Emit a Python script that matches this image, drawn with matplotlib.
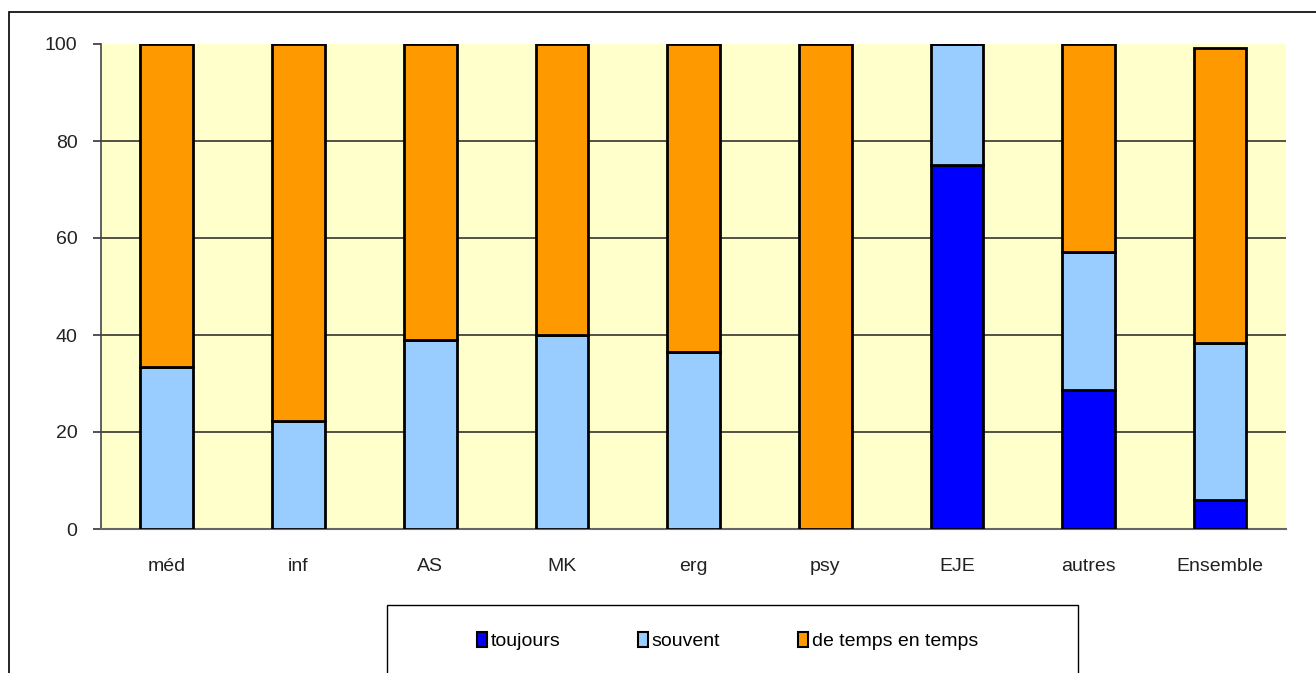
import matplotlib.pyplot as plt
from matplotlib.patches import Rectangle, Patch
import numpy as np

plt.rcParams['font.family'] = ['Liberation Sans', 'DejaVu Sans']

categories = ['méd', 'inf', 'AS', 'MK', 'erg', 'psy', 'EJE', 'autres', 'Ensemble']
toujours = [0, 0, 0, 0, 0, 0, 75.0, 28.6, 6.0]
souvent = [33.3, 22.2, 38.9, 40.0, 36.4, 0, 25.0, 28.5, 32.4]
de_temps = [66.7, 77.8, 61.1, 60.0, 63.6, 100.0, 0, 42.9, 60.8]
series_labels = ['toujours', 'souvent', 'de temps en temps']
colors = ['#0000FF', '#99CCFF', '#FF9900']

W, H = 1316, 673
fig = plt.figure(figsize=(W / 100, H / 100), dpi=100)
fig.patch.set_facecolor('white')

# outer chart frame (runs off the right and bottom of the picture)
fig.patches.append(Rectangle((9 / W, -0.1), 1.2, 1 - 12 / H + 0.1,
                             transform=fig.transFigure, fill=False,
                             edgecolor='black', linewidth=1.2))

ax = fig.add_axes([101 / W, 1 - 529 / H, (1286 - 101) / W, (529 - 44) / H])
ax.set_facecolor('#FFFFCC')

x = np.arange(len(categories))
bottom = np.zeros(len(categories))
for vals, col in zip([toujours, souvent, de_temps], colors):
    vals = np.asarray(vals, dtype=float)
    ax.bar(x, vals, width=0.4, bottom=bottom, color=col,
           edgecolor='black', linewidth=2, zorder=3)
    bottom += vals

ax.set_xlim(-0.5, len(categories) - 0.5)
ax.set_ylim(0, 100)
ax.set_yticks([0, 20, 40, 60, 80, 100])
ax.set_xticks(x)
ax.set_xticklabels(categories)
ax.tick_params(axis='x', length=0, pad=21, labelsize=14, colors='#222222')
ax.tick_params(axis='y', length=6, width=1.2, direction='out', pad=11,
               labelsize=14, colors='#333333', labelcolor='#222222')

ax.yaxis.grid(True, color='#333333', linewidth=1.2, zorder=1)
ax.set_axisbelow(True)
ax.get_ygridlines()[0].set_visible(False)
ax.get_ygridlines()[-1].set_visible(False)

for s in ['top', 'right']:
    ax.spines[s].set_visible(False)
ax.spines['left'].set_color('#444444')
ax.spines['left'].set_linewidth(1.2)
ax.spines['bottom'].set_color('#666666')
ax.spines['bottom'].set_linewidth(1.5)

# legend box (also runs off the bottom)
fig.patches.append(Rectangle((387 / W, -0.1), (1078 - 387) / W, 1 - 605 / H + 0.1,
                             transform=fig.transFigure, fill=False,
                             edgecolor='black', linewidth=1.0))
handles = [Patch(facecolor=c, edgecolor='black', linewidth=1.5) for c in colors]
fig.legend(handles, series_labels, ncol=3, frameon=False,
           loc='center left', bbox_to_anchor=(477 / W, 1 - 641 / H),
           handlelength=0.5, handleheight=0.8, handletextpad=0.2,
           columnspacing=4.0, fontsize=14, borderaxespad=0, borderpad=0)

fig.savefig('out.png', dpi=100)
